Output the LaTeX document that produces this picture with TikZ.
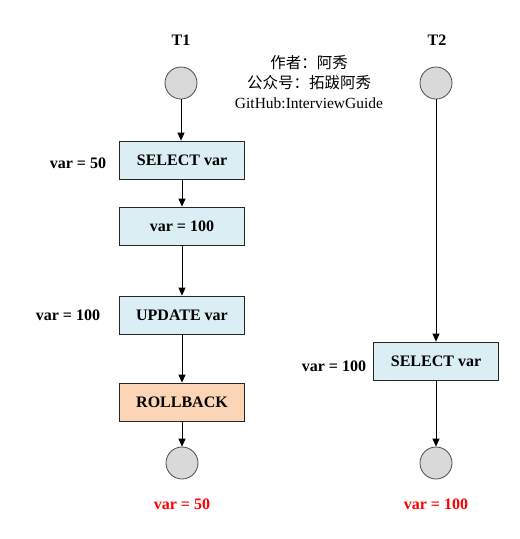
\documentclass[tikz,border=0pt]{standalone}
\usepackage{fontspec}
\setmainfont{Liberation Serif}
\newfontfamily\cjkfont{Noto Sans CJK SC}
\usetikzlibrary{arrows.meta}
\usetikzlibrary{positioning}
\definecolor{stepblue}{HTML}{DAEEF3}
\definecolor{rollpeach}{HTML}{FBD5B5}
\definecolor{stategray}{HTML}{D9D9D9}
\tikzset{
    opbox/.style={draw=black!85, fill=stepblue, line width=0.8pt,
        minimum width=125pt, minimum height=38pt, inner sep=0pt,
        font=\fontsize{16}{19}\selectfont\bfseries},
    rollbox/.style={opbox, fill=rollpeach},
    state/.style={circle, draw=black!70, fill=stategray, line width=0.8pt,
        minimum size=32pt, inner sep=0pt},
    flow/.style={draw=black, line width=0.8pt, -{Triangle[length=8pt,width=7pt]}},
    vallabel/.style={font=\fontsize{16}{19}\selectfont\bfseries},
    reslabel/.style={vallabel, text=red},
    thead/.style={font=\fontsize{16}{19}\selectfont\bfseries},
}
\begin{document}
\begin{tikzpicture}[x=1pt, y=-1pt]
	\useasboundingbox (0,0) rectangle (520,539);
	% transaction T1
	\node[thead] (t1) at (181,40) {T1};
	\node[state] (s1) at (181,83) {};
	\node[opbox] (sel1) at (182,160) {SELECT var};
	\node[opbox] (set1) at (182,226) {var = 100};
	\node[opbox] (upd1) at (182,315) {UPDATE var};
	\node[rollbox] (rb1) at (182,402) {ROLLBACK};
	\node[state] (e1) at (182,463) {};
	%
	\draw[flow] (s1) -- (s1 |- sel1.north);
	\draw[flow] (sel1) -- (set1);
	\draw[flow] (set1) -- (upd1);
	\draw[flow] (upd1) -- (rb1);
	\draw[flow] (rb1) -- (e1);
	%
	\node[vallabel] (v1) at (78,163) {var = 50};
	\node[vallabel] (v2) at (68,315) {var = 100};
	\node[reslabel] (r1) at (182,504) {var = 50};
	% transaction T2
	\node[thead] (t2) at (437,40) {T2};
	\node[state] (s2) at (436,83) {};
	\node[opbox] (sel2) at (436,361) {SELECT var};
	\node[state] (e2) at (436,463) {};
	%
	\draw[flow] (s2) -- (sel2);
	\draw[flow] (sel2) -- (e2);
	%
	\node[vallabel] (v3) at (334,366) {var = 100};
	\node[reslabel] (r2) at (436,504) {var = 100};
	% note
	\node[align=center, font=\fontsize{15.5}{20}\selectfont] (note) at (309,82)
		{{\cjkfont 作者：阿秀}\\{\cjkfont 公众号：拓跋阿秀}\\GitHub:InterviewGuide};
\end{tikzpicture}
\end{document}
